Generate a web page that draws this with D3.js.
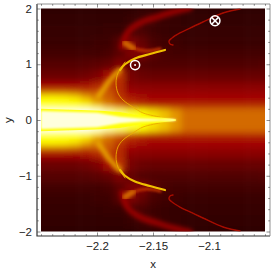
<!DOCTYPE html>
<html>
<head>
<meta charset="utf-8">
<script src="https://cdn.jsdelivr.net/npm/d3@7"></script>
<style>
html, body { margin: 0; padding: 0; background: #fff; }
svg { display: block; }
text { font-family: "Liberation Sans", Arial, sans-serif; fill: #222; }
</style>
</head>
<body>
<svg id="chart" width="271" height="274"></svg>
<script>
// grid columns and rows (upper half, picture is mirrored about y = 0)
var gridX = [-2.25, -2.24, -2.23, -2.22, -2.21, -2.2, -2.19, -2.18, -2.17, -2.16, -2.15, -2.14, -2.13, -2.12, -2.11, -2.1, -2.09, -2.08, -2.07, -2.06, -2.05];
var gridY = [2, 1.8, 1.6, 1.4, 1.2, 1, 0.8, 0.6, 0.5, 0.4, 0.3, 0.2, 0.1, 0];
var heat = [
    [2, 2, 2, 2, 2, 2, 2, 2, 2, 3, 3, 3, 3, 2, 2, 2, 2, 2, 2, 2, 2],
    [3, 3, 3, 3, 3, 3, 3, 3, 5, 8, 10, 6, 4, 3, 3, 3, 3, 3, 3, 3, 3],
    [4, 4, 4, 4, 4, 4, 5, 6, 10, 12, 8, 5, 4, 4, 4, 4, 4, 4, 4, 4, 4],
    [6, 6, 6, 6, 6, 7, 8, 18, 30, 22, 12, 9, 7, 6, 6, 6, 6, 6, 6, 6, 6],
    [10, 10, 10, 10, 10, 10, 12, 20, 30, 30, 20, 12, 10, 10, 10, 10, 10, 10, 10, 10, 10],
    [17, 17, 17, 17, 18, 20, 22, 30, 22, 16, 15, 15, 15, 15, 15, 15, 15, 15, 15, 15, 16],
    [24, 24, 24, 24, 26, 30, 42, 50, 28, 24, 23, 23, 23, 23, 23, 23, 23, 23, 23, 23, 23],
    [40, 40, 40, 40, 42, 46, 52, 48, 33, 32, 32, 32, 32, 32, 32, 32, 32, 32, 32, 32, 32],
    [60, 60, 60, 58, 54, 56, 56, 48, 40, 38, 37, 37, 37, 37, 37, 37, 37, 37, 37, 37, 37],
    [84, 84, 83, 80, 72, 62, 58, 50, 44, 42, 41, 41, 41, 41, 41, 41, 41, 41, 41, 41, 41],
    [86, 86, 86, 85, 82, 72, 62, 56, 50, 47, 45, 45, 45, 45, 45, 45, 45, 45, 45, 45, 45],
    [90, 90, 88, 87, 86, 85, 76, 68, 60, 56, 54, 52, 52, 52, 52, 52, 52, 52, 52, 52, 52],
    [95, 95, 94, 92, 90, 88, 85, 82, 74, 68, 64, 60, 58, 58, 57, 57, 57, 57, 57, 58, 58],
    [100, 100, 100, 100, 100, 98, 95, 92, 88, 85, 80, 75, 68, 60, 60, 60, 60, 60, 60, 60, 60]
];

// the narrow wedge running along y = 0
var wedgeX = [-2.25, -2.2, -2.1795, -2.1616, -2.1482, -2.1348, -2.1295];
var wedgeHalf = [0.2, 0.17, 0.143, 0.08, 0.054, 0.027, 0.014];
var coreX = [-2.25, -2.2, -2.1795, -2.1616, -2.1438, -2.1321, -2.1295];
var coreHalf = [0.16, 0.13, 0.06, 0.027, 0.014, 0.02, 0.01];

// ridges, upper half
var arcX = [-2.1438, -2.1589, -2.1679, -2.1768, -2.1813, -2.183, -2.1813, -2.175];
var arcY = [0.054, 0.126, 0.233, 0.359, 0.484, 0.664, 0.843, 1.04];
var ridgeX = [-2.1991, -2.1946, -2.1884, -2.1795, -2.175, -2.1661, -2.1527];
var ridgeY = [0.413, 0.538, 0.717, 0.897, 1.0, 1.103, 1.184];
var tailX = [-2.1795, -2.175, -2.1661, -2.1527, -2.1393];
var tailY = [0.897, 1.0, 1.103, 1.184, 1.256];
var armX = [-2.1777, -2.1723, -2.1616, -2.1464, -2.1321, -2.117];
var armY = [1.309, 1.578, 1.74, 1.848, 1.937, 2.009];
var lowArmX = [-2.175, -2.1679, -2.1554, -2.1438];
var lowArmY = [1.381, 1.292, 1.237, 1.273];
var hookX = [-2.1321, -2.1348, -2.1357, -2.133, -2.1259, -2.117, -2.1054, -2.0875, -2.0723];
var hookY = [1.345, 1.363, 1.417, 1.471, 1.561, 1.65, 1.758, 1.919, 1.99];

// the two marked points
var dotPoint = [-2.166, 0.986];
var crossPoint = [-2.0946, 1.78];

var xMajor = [-2.2, -2.15, -2.1];
var xLabels = ["\u22122.2", "\u22122.15", "\u22122.1"];
var xMinor = [-2.25, -2.24, -2.23, -2.22, -2.21, -2.19, -2.18, -2.17, -2.16, -2.14, -2.13, -2.12, -2.11, -2.09, -2.08, -2.07, -2.06, -2.05];
var yMajor = [-2, -1, 0, 1, 2];
var yLabels = ["\u22122", "\u22121", "0", "1", "2"];
var yMinor = [-1.8, -1.6, -1.4, -1.2, -0.8, -0.6, -0.4, -0.2, 0.2, 0.4, 0.6, 0.8, 1.2, 1.4, 1.6, 1.8];

var svg = d3.select("#chart");
var x = d3.scaleLinear().domain([-2.25, -2.05]).range([41, 265]);
var y = d3.scaleLinear().domain([-2, 2]).range([231.5, 8.5]);
var color = d3.scaleLinear()
    .domain([0, 0.2, 0.4, 0.55, 0.7, 0.85, 1])
    .range(["#2a0000", "#5c0000", "#a00000", "#c85000", "#e8a000", "#ffff00", "#ffffff"]);

var defs = svg.append("defs");
defs.append("clipPath").attr("id", "plot").append("rect")
    .attr("x", x.range()[0]).attr("y", y.range()[1])
    .attr("width", x.range()[1] - x.range()[0]).attr("height", y.range()[0] - y.range()[1]);
[["b3", 3], ["b2", 2], ["b1", 1], ["b05", 0.5]].forEach(function (b) {
    defs.append("filter").attr("id", b[0])
        .attr("x", "-30%").attr("y", "-30%").attr("width", "160%").attr("height", "160%")
        .append("feGaussianBlur").attr("stdDeviation", b[1]);
});

var plot = svg.append("g").attr("clip-path", "url(#plot)");

// heat cells: cell edges are halfway between rows/columns, outer cells run past the clip
var edges = function (vals, i) {
    var lo = i === 0 ? vals[0] - (vals[1] - vals[0]) * 2 : (vals[i] + vals[i - 1]) / 2;
    var hi = i === vals.length - 1 ? vals[i] + (vals[i] - vals[i - 1]) * 2 : (vals[i] + vals[i + 1]) / 2;
    return [lo, hi];
};
var cells = [];
heat.forEach(function (row, r) {
    row.forEach(function (v, c) {
        var ex = edges(gridX, c);
        var ey = edges(gridY, r);
        cells.push({x0: ex[0], x1: ex[1], y0: ey[0], y1: ey[1], v: v / 100});
        if (gridY[r] !== 0) {
            cells.push({x0: ex[0], x1: ex[1], y0: -ey[0], y1: -ey[1], v: v / 100});
        } else {
            cells.push({x0: ex[0], x1: ex[1], y0: -ey[1], y1: ey[1], v: v / 100});
        }
    });
});
plot.append("g").attr("filter", "url(#b3)").selectAll("rect").data(cells).enter().append("rect")
    .attr("x", function (d) { return x(d.x0); })
    .attr("width", function (d) { return x(d.x1) - x(d.x0) + 0.5; })
    .attr("y", function (d) { return Math.min(y(d.y0), y(d.y1)); })
    .attr("height", function (d) { return Math.abs(y(d.y1) - y(d.y0)) + 0.5; })
    .attr("fill", function (d) { return color(d.v); });

// ridges are drawn twice, once per half plane
var drawRidge = function (xs, ys, v, width, blur, opacity) {
    [1, -1].forEach(function (sign) {
        var line = d3.line()
            .x(function (d) { return x(d); })
            .y(function (d, i) { return y(sign * ys[i]); })
            .curve(d3.curveCatmullRom);
        plot.append("path").attr("d", line(xs))
            .attr("fill", "none")
            .attr("stroke", color(v))
            .attr("stroke-width", width)
            .attr("stroke-linecap", "round")
            .attr("stroke-opacity", opacity)
            .attr("filter", "url(#" + blur + ")");
    });
};
drawRidge(armX, armY, 0.4, 6, "b2", 0.9);
drawRidge(lowArmX, lowArmY, 0.48, 3.5, "b1", 0.9);
drawRidge(lowArmX.slice(0, 2), lowArmY.slice(0, 2), 0.6, 6, "b2", 1);
drawRidge(ridgeX.slice(0, 4), ridgeY.slice(0, 4), 0.72, 5, "b2", 0.9);
drawRidge(tailX, tailY, 0.75, 2.2, "b05", 1);
drawRidge(hookX, hookY, 0.42, 1.4, "b05", 1);
drawRidge(arcX, arcY, 0.72, 0.9, "b05", 1);

// wedge along the axis
var drawWedge = function (xs, halves, v, blur) {
    var area = d3.area()
        .x(function (d) { return x(d); })
        .y0(function (d, i) { return y(-halves[i]); })
        .y1(function (d, i) { return y(halves[i]); });
    plot.append("path").attr("d", area(xs))
        .attr("fill", color(v))
        .attr("filter", "url(#" + blur + ")");
};
drawWedge(wedgeX, wedgeHalf, 0.86, "b05");
drawWedge(coreX, coreHalf, 0.98, "b1");

// marked points
var marks = svg.append("g").attr("fill", "none").attr("stroke", "#fff");
marks.append("circle").attr("cx", x(dotPoint[0])).attr("cy", y(dotPoint[1])).attr("r", 4.6).attr("stroke-width", 1.5);
marks.append("circle").attr("cx", x(dotPoint[0])).attr("cy", y(dotPoint[1])).attr("r", 1).attr("fill", "#fff").attr("stroke", "none");
marks.append("circle").attr("cx", x(crossPoint[0])).attr("cy", y(crossPoint[1])).attr("r", 4.9).attr("stroke-width", 1.5);
var rx = 3.4;
[[-1, -1, 1, 1], [-1, 1, 1, -1]].forEach(function (c) {
    marks.append("line")
        .attr("x1", x(crossPoint[0]) + c[0] * rx).attr("y1", y(crossPoint[1]) + c[1] * rx)
        .attr("x2", x(crossPoint[0]) + c[2] * rx).attr("y2", y(crossPoint[1]) + c[3] * rx)
        .attr("stroke-width", 1.5);
});

// frame and axes
svg.append("path").attr("d", "M37,4V236H270").attr("fill", "none").attr("stroke", "#333").attr("stroke-width", 1.2);
svg.append("path").attr("d", "M37,4H270V236").attr("fill", "none").attr("stroke", "#777").attr("stroke-width", 0.8);

var addAxis = function (gen, tx, ty, values, size, labels) {
    var a = gen.tickValues(values).tickSizeInner(size).tickSizeOuter(0).tickPadding(6)
        .tickFormat(function (d, i) { return labels ? labels[i] : ""; });
    var g = svg.append("g").attr("transform", "translate(" + tx + "," + ty + ")").call(a);
    g.select(".domain").remove();
    g.selectAll("line").attr("stroke", "#444").attr("stroke-width", 0.6);
    g.selectAll("text").style("font-size", "11.5px").style("font-family", "'Liberation Sans', Arial, sans-serif").attr("fill", "#222");
    return g;
};
addAxis(d3.axisBottom(x), 0, 236, xMajor, -3.5, xLabels);
addAxis(d3.axisBottom(x), 0, 236, xMinor, -1.8);
addAxis(d3.axisTop(x), 0, 4, xMajor, -3.5);
addAxis(d3.axisTop(x), 0, 4, xMinor, -1.8);
addAxis(d3.axisLeft(y), 37, 0, yMajor, -3.5, yLabels).selectAll("text").attr("dx", "1");
addAxis(d3.axisLeft(y), 37, 0, yMinor, -1.8);
addAxis(d3.axisRight(y), 270, 0, yMajor, -3.5);
addAxis(d3.axisRight(y), 270, 0, yMinor, -1.8);

svg.append("text").attr("x", x(-2.15)).attr("y", 268).attr("text-anchor", "middle").style("font-size", "11.5px").text("x");
svg.append("text").attr("transform", "translate(12," + y(0) + ") rotate(-90)").attr("text-anchor", "middle").style("font-size", "11.5px").text("y");
</script>
</body>
</html>
